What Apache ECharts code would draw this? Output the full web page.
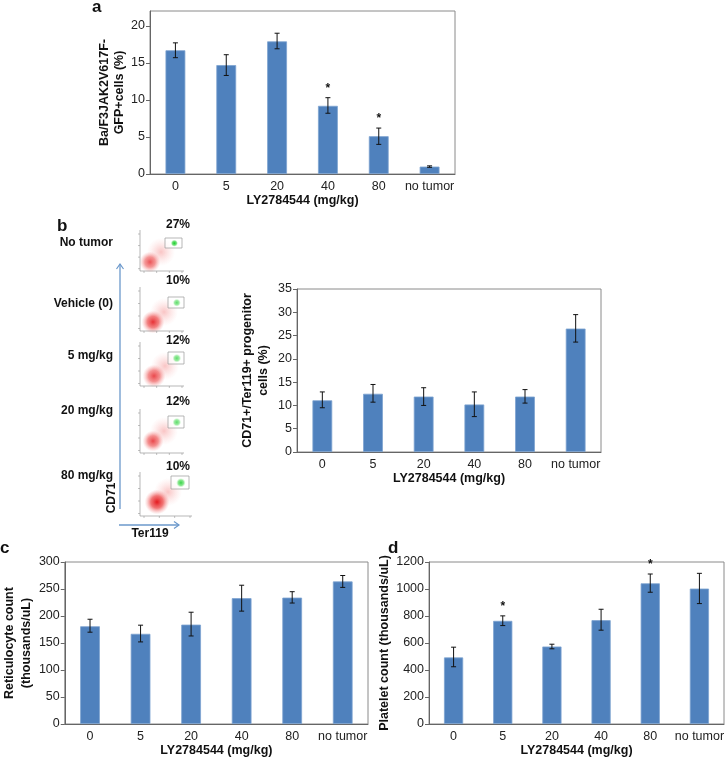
<!DOCTYPE html>
<html><head><meta charset="utf-8">
<script src="https://cdn.jsdelivr.net/npm/echarts@6/dist/echarts.min.js"></script>
<style>html,body{margin:0;padding:0;background:#fff}#c{width:727px;height:758px}</style>
</head><body><div id="c"></div>
<script>
// ---- data ----
const cats = ['0', '5', '20', '40', '80', 'no tumor'];
const aVals = [16.7, 14.7, 17.9, 9.2, 5.1, 1.0];
const aLow  = [15.7, 13.3, 16.9, 8.2, 4.0, 0.9];
const aHigh = [17.7, 16.1, 19.0, 10.3, 6.2, 1.1];
const aSig  = [0, 0, 0, 1, 1, 0];
const bVals = [11.1, 12.5, 11.9, 10.2, 11.9, 26.5];
const bLow  = [9.5, 10.7, 10.0, 7.6, 10.5, 23.6];
const bHigh = [12.9, 14.5, 13.8, 12.9, 13.4, 29.5];
const bSig  = [0, 0, 0, 0, 0, 0];
const cVals = [181, 167, 184, 233, 234, 264];
const cLow  = [170, 152, 163, 209, 224, 253];
const cHigh = [194, 183, 207, 257, 245, 275];
const cSig  = [0, 0, 0, 0, 0, 0];
const dVals = [493, 764, 574, 769, 1042, 1003];
const dLow  = [424, 729, 557, 695, 976, 892];
const dHigh = [569, 801, 591, 850, 1111, 1116];
const dSig  = [0, 1, 0, 0, 1, 0];
const flowRows = ['No tumor', 'Vehicle (0)', '5 mg/kg', '20 mg/kg', '80 mg/kg'];
const flowPct  = ['27%', '10%', '12%', '12%', '10%'];
const xTitle = 'LY2784544 (mg/kg)';
const yTitles = ['Ba/F3JAK2V617F-\nGFP+cells (%)', 'CD71+/Ter119+ progenitor\ncells (%)', 'Reticulocyte count\n(thousands/uL)', 'Platelet count (thousands/uL)'];

const FONT = 'Liberation Sans, Arial, sans-serif';
const BLUE = '#4F81BD';

const grids = [
  {left: 150, top: 11, width: 305, height: 163},
  {left: 297, top: 289, width: 304, height: 163},
  {left: 60, top: 562, width: 308, height: 162},
  {left: 429, top: 562, width: 296, height: 162}
].map(g => Object.assign({show: true, borderColor: '#8a8a8a', borderWidth: 1, containLabel: false}, g));

const yCfg = [
  {max: 22, interval: 5, gap: 23, lh: 15},
  {max: 35, interval: 5, gap: 25, lh: 16},
  {max: 300, interval: 50, gap: 29, lh: 17},
  {max: 1200, interval: 200, gap: 31, lh: 16}
];

const xAxes = grids.map((g, i) => ({
  type: 'category', gridIndex: i, data: cats,
  axisLine: {lineStyle: {color: '#666', width: 1}},
  axisTick: {show: false},
  axisLabel: {color: '#222', fontSize: 12.5, fontFamily: FONT, margin: 6, interval: 0},
  name: xTitle, nameLocation: 'middle', nameGap: 20,
  nameTextStyle: {color: '#111', fontSize: 12.5, fontWeight: 'bold', fontFamily: FONT}
}));

const yAxes = grids.map((g, i) => ({
  type: 'value', gridIndex: i, min: 0, max: yCfg[i].max, interval: yCfg[i].interval,
  splitLine: {show: false},
  axisLine: {show: true, lineStyle: {color: '#666', width: 1}},
  axisTick: {show: true, length: 4, lineStyle: {color: '#666'}},
  axisLabel: {color: '#222', fontSize: 12.5, fontFamily: FONT, margin: 5, showMaxLabel: i !== 0, formatter: v => String(v)},
  name: yTitles[i], nameLocation: 'middle', nameGap: yCfg[i].gap, nameRotate: 90,
  nameTextStyle: {color: '#111', fontSize: 12.5, fontWeight: 'bold', fontFamily: FONT, lineHeight: yCfg[i].lh}
}));

function errRender(params, api) {
  const i = api.value(0);
  const lo = api.coord([i, api.value(1)]);
  const hi = api.coord([i, api.value(2)]);
  const w = 2.5;
  const st = {stroke: '#111', lineWidth: 1};
  const ch = [
    {type: 'line', shape: {x1: lo[0], y1: lo[1], x2: hi[0], y2: hi[1]}, style: st},
    {type: 'line', shape: {x1: lo[0] - w, y1: lo[1], x2: lo[0] + w, y2: lo[1]}, style: st},
    {type: 'line', shape: {x1: hi[0] - w, y1: hi[1], x2: hi[0] + w, y2: hi[1]}, style: st}
  ];
  if (api.value(3)) {
    ch.push({type: 'text', style: {text: '*', x: hi[0], y: hi[1] - 3, textAlign: 'center', textVerticalAlign: 'bottom', fill: '#111', font: 'bold 12px ' + FONT}});
  }
  return {type: 'group', children: ch};
}

const sets = [[aVals, aLow, aHigh, aSig], [bVals, bLow, bHigh, bSig], [cVals, cLow, cHigh, cSig], [dVals, dLow, dHigh, dSig]];
const series = [];
sets.forEach((s, i) => {
  series.push({type: 'bar', xAxisIndex: i, yAxisIndex: i, data: s[0], barWidth: '39%',
    itemStyle: {color: BLUE, borderColor: '#7ea3d1', borderWidth: 0.8}, silent: true, animation: false});
  series.push({type: 'custom', xAxisIndex: i, yAxisIndex: i, renderItem: errRender,
    data: cats.map((c, k) => [k, s[1][k], s[2][k], s[3][k]]), z: 5, silent: true, animation: false});
});

// ---- graphics: panel letters, flow-cytometry sketches, arrows ----
const g = [];
const letter = (t, x, y) => g.push({type: 'text', left: x, top: y, style: {text: t, font: 'bold 17px ' + FONT, fill: '#111'}});
letter('a', 92, -1); letter('b', 57, 218); letter('c', 0, 540); letter('d', 388, 540);

const flowBoxes = [
  {x: 140, y: 230, w: 44, h: 41, gx: 165, gy: 238, gw: 17, gh: 10, ty: 243, cx: 150, cy: 262, r: 11, a: 0.75, py: 225, ga: 1},
  {x: 140, y: 287, w: 44, h: 44, gx: 168, gy: 297, gw: 16, gh: 11, ty: 304, cx: 153, cy: 322, r: 12, a: 0.9, py: 281, ga: 0.7},
  {x: 140, y: 342, w: 44, h: 44, gx: 168, gy: 352, gw: 16, gh: 12, ty: 356, cx: 154, cy: 376, r: 12, a: 0.8, py: 341, ga: 0.7},
  {x: 140, y: 409, w: 44, h: 44, gx: 168, gy: 416, gw: 16, gh: 12, ty: 411, cx: 153, cy: 441, r: 11, a: 0.8, py: 402, ga: 0.7},
  {x: 140, y: 472, w: 52, h: 44, gx: 171, gy: 476, gw: 18, gh: 13, ty: 476, cx: 157, cy: 502, r: 13, a: 1.0, py: 467, ga: 0.85}
];
flowBoxes.forEach((b, i) => {
  g.push({type: 'text', style: {text: flowRows[i], x: 113, y: b.ty, textAlign: 'right', textVerticalAlign: 'middle', font: 'bold 12px ' + FONT, fill: '#111'}});
  g.push({type: 'text', style: {text: flowPct[i], x: b.x + 38, y: b.py, textAlign: 'center', textVerticalAlign: 'middle', font: 'bold 12px ' + FONT, fill: '#111'}});
  // diffuse haze toward upper right
  g.push({type: 'ellipse', shape: {cx: b.cx + 11, cy: b.cy - 10, rx: 25, ry: 14}, rotation: Math.PI / 4, originX: b.cx + 11, originY: b.cy - 10,
    style: {fill: {type: 'radial', x: 0.5, y: 0.5, r: 0.5, colorStops: [{offset: 0, color: 'rgba(240,100,100,0.38)'}, {offset: 1, color: 'rgba(250,160,160,0)'}]}}});
  // dense red cloud
  g.push({type: 'ellipse', shape: {cx: b.cx, cy: b.cy, rx: b.r * 1.25, ry: b.r * 0.95}, rotation: Math.PI / 6, originX: b.cx, originY: b.cy,
    style: {fill: {type: 'radial', x: 0.5, y: 0.5, r: 0.5, colorStops: [{offset: 0, color: 'rgba(228,25,30,' + b.a + ')'}, {offset: 0.5, color: 'rgba(235,60,60,' + (b.a * 0.7) + ')'}, {offset: 1, color: 'rgba(245,140,140,0)'}]}}});
  // axes
  g.push({type: 'polyline', shape: {points: [[b.x, b.y], [b.x, b.y + b.h], [b.x + b.w, b.y + b.h]]}, style: {stroke: '#9a9a9a', lineWidth: 0.7, fill: null}});
  for (let k = 0; k < 4; k++) {
    const ty = b.y + 4 + k * (b.h - 4) / 3.2;
    g.push({type: 'line', shape: {x1: b.x - 2, y1: ty, x2: b.x, y2: ty}, style: {stroke: '#999', lineWidth: 0.6}});
    const tx = b.x + 4 + k * (b.w - 6) / 3;
    g.push({type: 'line', shape: {x1: tx, y1: b.y + b.h, x2: tx, y2: b.y + b.h + 2}, style: {stroke: '#999', lineWidth: 0.6}});
  }
  // gate + green blob
  g.push({type: 'rect', shape: {x: b.gx, y: b.gy, width: b.gw, height: b.gh}, style: {stroke: '#9a9a9a', lineWidth: 0.7, fill: 'rgba(255,255,255,0.6)'}});
  g.push({type: 'ellipse', shape: {cx: b.gx + b.gw * 0.55, cy: b.gy + b.gh * 0.52, rx: b.gw * 0.4, ry: b.gh * 0.36},
    style: {fill: {type: 'radial', x: 0.5, y: 0.5, r: 0.5, colorStops: [{offset: 0, color: 'rgba(20,205,40,' + b.ga + ')'}, {offset: 0.6, color: 'rgba(60,215,70,' + (b.ga * 0.7) + ')'}, {offset: 1, color: 'rgba(140,235,140,0)'}]}}});
});

// arrows
const ARR = '#6b98cb';
g.push({type: 'line', shape: {x1: 120, y1: 509, x2: 120, y2: 264}, style: {stroke: ARR, lineWidth: 1.3}});
g.push({type: 'polyline', shape: {points: [[116.5, 269], [120, 264], [123.5, 269]]}, style: {stroke: ARR, lineWidth: 1.2, fill: null}});
g.push({type: 'line', shape: {x1: 119, y1: 525, x2: 179, y2: 525}, style: {stroke: ARR, lineWidth: 1.3}});
g.push({type: 'polyline', shape: {points: [[174, 521.5], [179, 525], [174, 528.5]]}, style: {stroke: ARR, lineWidth: 1.2, fill: null}});
g.push({type: 'text', style: {text: 'Ter119', x: 150, y: 534, textAlign: 'center', textVerticalAlign: 'middle', font: 'bold 12px ' + FONT, fill: '#111'}});
g.push({type: 'text', rotation: Math.PI / 2, x: 112, y: 498, style: {text: 'CD71', x: 0, y: 0, textAlign: 'center', textVerticalAlign: 'middle', font: 'bold 12px ' + FONT, fill: '#111'}});

const chart = echarts.init(document.getElementById('c'), null, {renderer: 'canvas'});
chart.setOption({
  animation: false,
  textStyle: {fontFamily: FONT},
  grid: grids, xAxis: xAxes, yAxis: yAxes, series: series,
  graphic: g
});
</script></body></html>
